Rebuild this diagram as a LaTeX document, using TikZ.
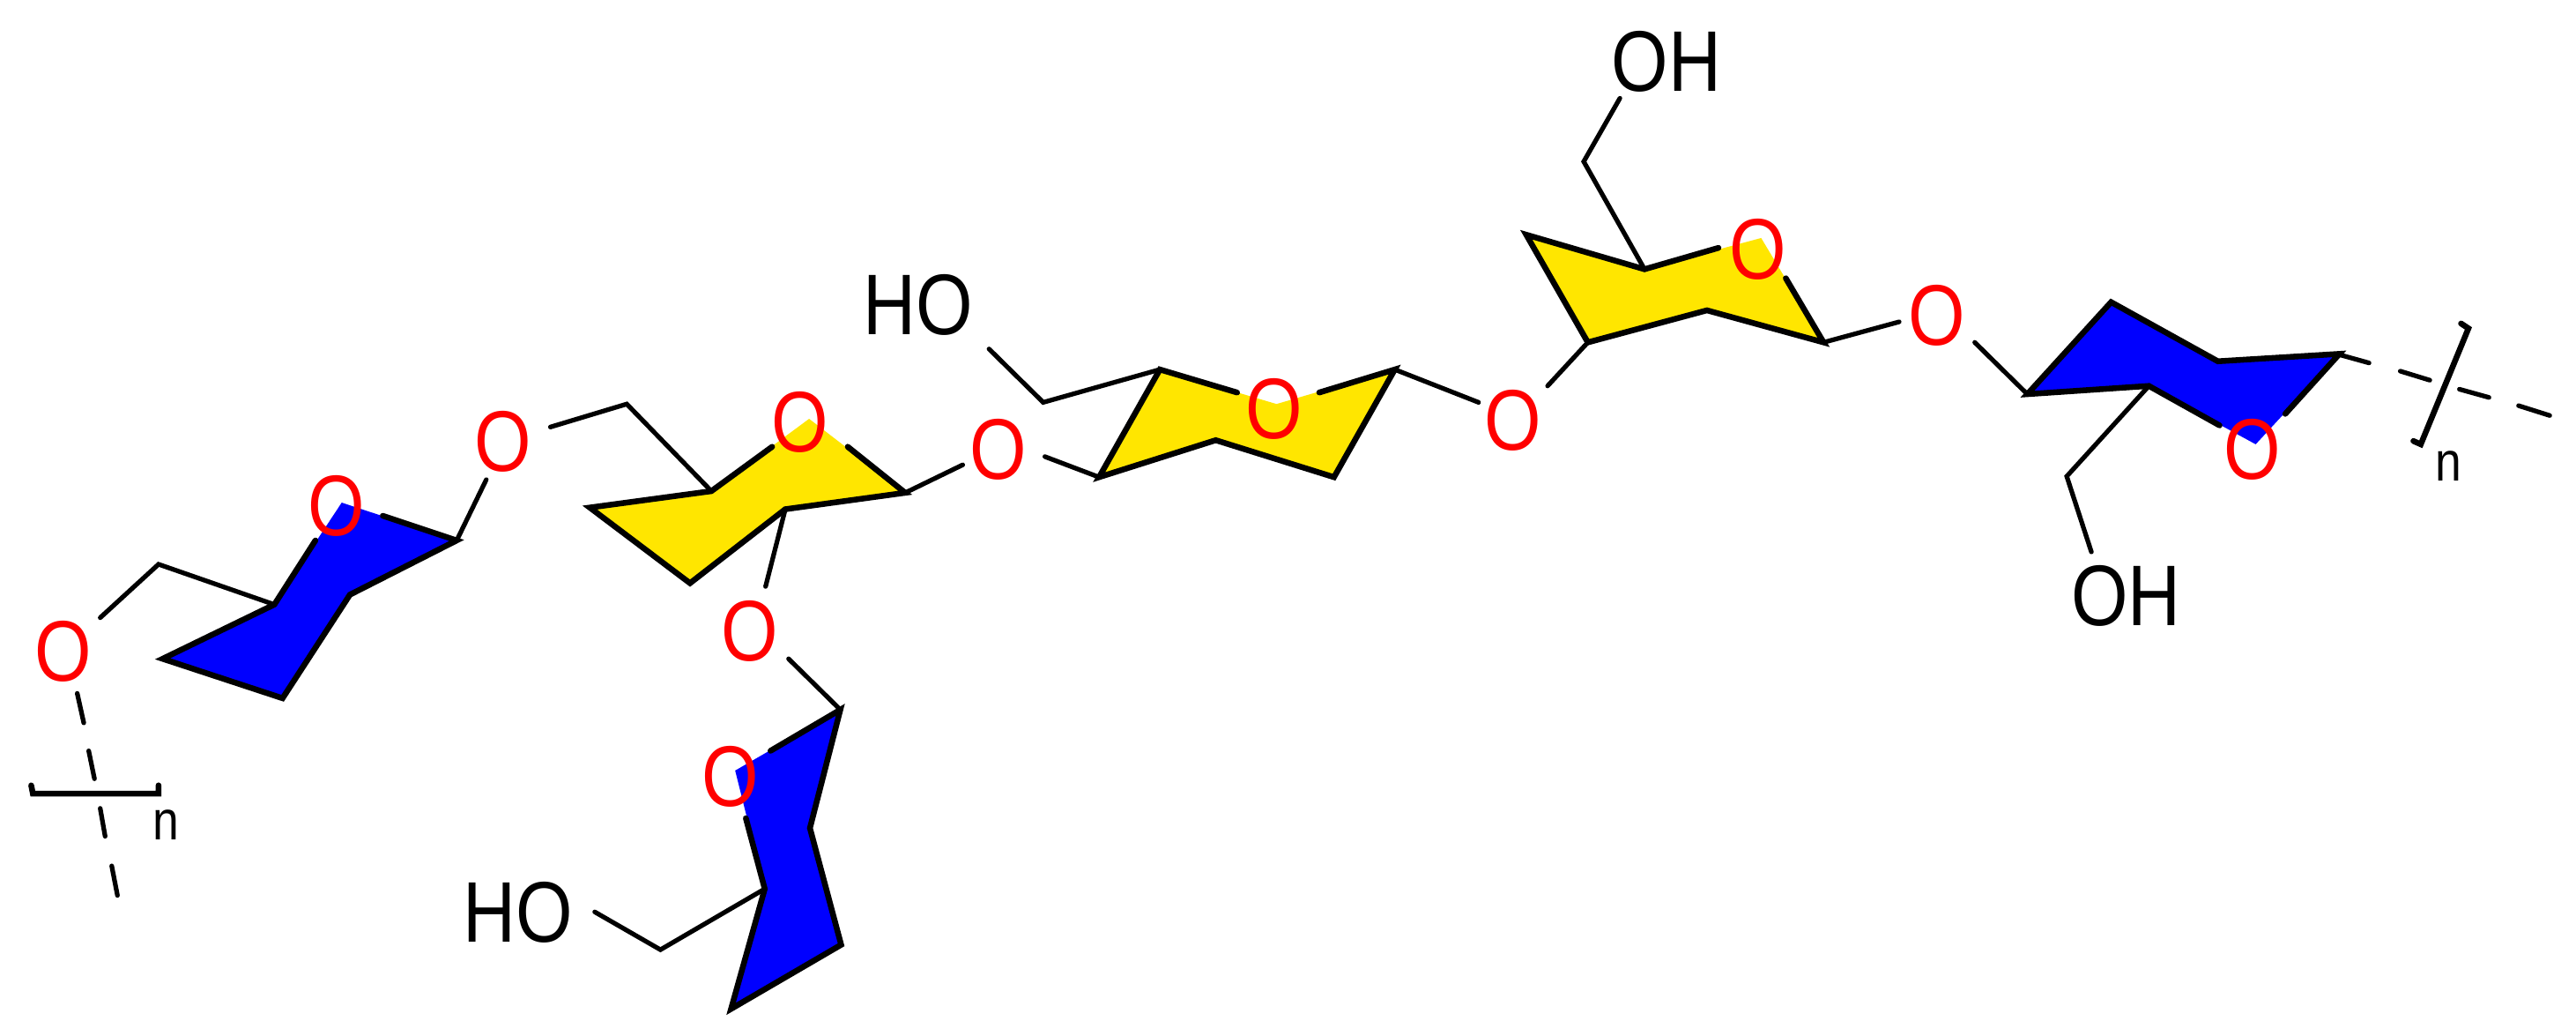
\documentclass[tikz,border=0pt]{standalone}
\usepackage{fontspec}
\setmainfont[FakeStretch=.85]{Liberation Sans}
\usepackage{tkz-euclide}
\definecolor{SheetClr}{RGB}{255,230,0}
\definecolor{BoatClr}{RGB}{0,0,255}
\definecolor{OxyClr}{RGB}{255,0,0}
\tikzset{
  bond/.style={line width=.8pt,color=black},
  edge/.style={line width=1pt,color=black,line join=miter},
  atom/.style={inner sep=0pt,font=\fontsize{14.9}{17}\selectfont},
  oxy/.style={atom,text=OxyClr},
  idx/.style={inner sep=0pt,font=\fontsize{9.6}{11}\selectfont}
}

\begin{document}
\begin{tikzpicture}
\useasboundingbox (0,0) rectangle (15.68,6.298);

\tkzDefPoints{.99/2.29/Aa,1.67/2.62/Ab,2.08/3.24/Ac,2.78/3.01/Ad,2.13/2.68/Ae,1.72/2.05/Af}
\tkzDefPoints{1.92/3.01/Ag,2.33/3.16/Ah,.965/2.865/Ai,.61/2.54/Aj,2.96/3.38/Ak,3.35/3.70/Al,3.815/3.84/Am}

\tkzDefPoints{3.59/3.21/Ba,4.33/3.31/Bb,4.925/3.75/Bc,5.51/3.30/Bd,4.78/3.20/Be,4.20/2.75/Bf}
\tkzDefPoints{4.70/3.58/Bg,5.16/3.58/Bh,4.66/2.73/Bi,4.80/2.29/Bj}

\tkzDefPoints{5.115/1.98/Ca,4.475/1.61/Cb,4.655/.89/Cc,4.45/.16/Cd,5.12/.55/Ce,4.93/1.26/Cf}
\tkzDefPoints{4.69/1.73/Cg,4.54/1.32/Ch,4.02/.52/Ci,3.62/.75/Cj}

\tkzDefPoints{6.69/3.395/Da,7.06/4.05/Db,7.77/3.84/Dc,8.49/4.05/Dd,8.12/3.395/De,7.40/3.62/Df}
\tkzDefPoints{7.53/3.91/Dg,8.03/3.91/Dh,6.02/4.175/Di,6.35/3.85/Dj,9.00/3.85/Dk,9.42/3.95/Dl,6.36/3.52/Dm,5.86/3.47/Dn}

\tkzDefPoints{9.29/4.87/Ea,10.01/4.66/Eb,10.72/4.85/Ec,11.10/4.215/Ed,10.39/4.41/Ee,9.665/4.215/Ef}
\tkzDefPoints{10.46/4.79/Eg,10.87/4.605/Eh,9.86/5.70/Ei,9.64/5.315/Ej,11.56/4.34/Ek,12.02/4.215/El}

\tkzDefPoints{12.34/3.90/Fa,12.85/4.46/Fb,13.50/4.10/Fc,14.24/4.145/Fd,13.73/3.595/Fe,13.08/3.95/Ff}
\tkzDefPoints{13.51/3.71/Fg,13.91/3.78/Fh,12.58/3.40/Fi,12.73/2.94/Fj}

% chain ends
\tkzDefPoints{.47/2.08/Ga,.51/1.90/Gb,.54/1.73/Gc,.575/1.56/Gd,.61/1.38/Ge,.64/1.21/Gf,.68/1.03/Gg,.715/.85/Gh}
\tkzDefPoints{.19/1.52/Ha,.20/1.47/Hb,.965/1.47/Hc,.965/1.52/Hd}
\tkzDefPoints{14.24/4.14/Ja,14.42/4.09/Jb,14.61/4.04/Jc,14.79/3.985/Jd,14.97/3.93/Je,15.15/3.88/Jf,15.33/3.83/Jg,15.52/3.77/Jh}
\tkzDefPoints{14.98/4.33/Ka,15.025/4.30/Kb,14.735/3.595/Kc,14.69/3.615/Kd}

\tkzFillPolygon[fill=BoatClr](Aa,Ab,Ac,Ad,Ae,Af)
\tkzFillPolygon[fill=SheetClr](Ba,Bb,Bc,Bd,Be,Bf)
\tkzFillPolygon[fill=BoatClr](Ca,Cb,Cc,Cd,Ce,Cf)
\tkzFillPolygon[fill=SheetClr](Da,Db,Dc,Dd,De,Df)
\tkzFillPolygon[fill=SheetClr](Ea,Eb,Ec,Ed,Ee,Ef)
\tkzFillPolygon[fill=BoatClr](Fa,Fb,Fc,Fd,Fe,Ff)

\tkzDrawPolySeg[edge](Ag,Ab,Aa,Af,Ae,Ad,Ah)
\tkzDrawPolySeg[edge](Bg,Bb,Ba,Bf,Be,Bd,Bh)
\tkzDrawPolySeg[edge](Cg,Ca,Cf,Ce,Cd,Cc,Ch)
\tkzDrawPolySeg[edge](Dg,Db,Da,Df,De,Dd,Dh)
\tkzDrawPolySeg[edge](Eg,Eb,Ea,Ef,Ee,Ed,Eh)
\tkzDrawPolySeg[edge](Fg,Ff,Fa,Fb,Fc,Fd,Fh)

\tkzDrawPolySeg[bond](Ab,Ai,Aj)
\tkzDrawPolySeg[bond](Al,Am,Bb)
\tkzDrawPolySeg[bond](Cc,Ci,Cj)
\tkzDrawPolySeg[bond](Di,Dj,Db)
\tkzDrawPolySeg[bond](Ei,Ej,Eb)
\tkzDrawPolySeg[bond](Ff,Fi,Fj)
\tkzDrawSegments[bond](Ad,Ak Be,Bi Bj,Ca Bd,Dn Dm,Da Dd,Dk Dl,Ef Ed,Ek El,Fa)

\tkzDrawSegments[bond](Ga,Gb Gc,Gd Ge,Gf Gg,Gh)
\tkzDrawSegments[bond](Ja,Jb Jc,Jd Je,Jf Jg,Jh)
\tkzDrawPolySeg[edge](Ha,Hb,Hc,Hd)
\tkzDrawPolySeg[edge](Ka,Kb,Kc,Kd)

\node[oxy] (OxyA) at (.385,2.335) {O};
\node[oxy] (OxyB) at (2.05,3.22) {O};
\node[oxy] (OxyC) at (3.06,3.61) {O};
\node[oxy] (OxyD) at (4.87,3.73) {O};
\node[oxy] (OxyE) at (4.565,2.46) {O};
\node[oxy] (OxyF) at (4.445,1.575) {O};
\node[oxy] (OxyG) at (6.075,3.565) {O};
\node[oxy] (OxyH) at (7.755,3.81) {O};
\node[oxy] (OxyI) at (9.21,3.74) {O};
\node[oxy] (OxyJ) at (10.70,4.78) {O};
\node[oxy] (OxyK) at (11.79,4.38) {O};
\node[oxy] (OxyL) at (13.71,3.565) {O};

\node[atom] (HoA) at (3.155,.745) {HO};
\node[atom] (HoB) at (5.59,4.44) {HO};
\node[atom] (OhA) at (10.145,5.925) {OH};
\node[atom] (OhB) at (12.94,2.675) {OH};

\node[idx] (RepA) at (1.01,1.28) {n};
\node[idx] (RepB) at (14.905,3.46) {n};
\end{tikzpicture}
\end{document}
